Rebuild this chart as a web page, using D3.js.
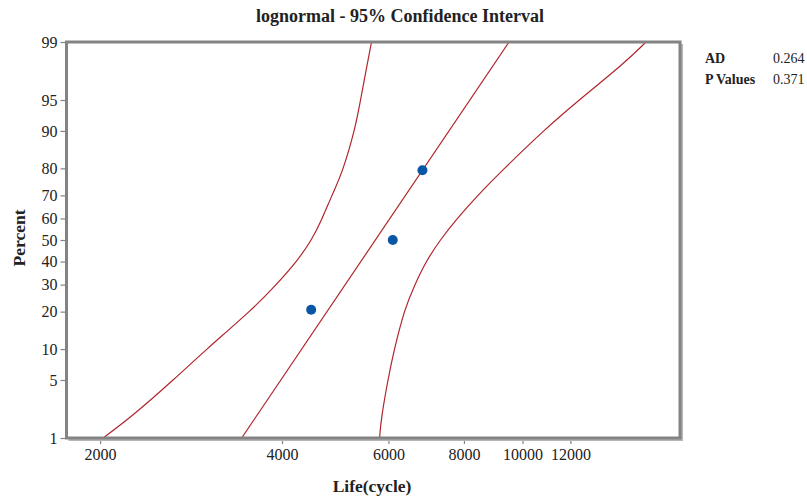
<!DOCTYPE html>
<html>
<head>
<meta charset="utf-8">
<script src="https://cdn.jsdelivr.net/npm/d3@7"></script>
<style>
  html, body { margin: 0; padding: 0; background: #fff; }
  svg text { font-family: "Liberation Serif", "Times New Roman", serif; fill: #222; }
</style>
</head>
<body>
<svg id="chart" width="807" height="497"></svg>
<script>
// Observed failure lives (cycles) and their median-rank plotting positions (%)
const lifeValues = [4470, 6100, 6830];
const rankPercent = [20.6, 50, 79.4];

// Fitted lognormal line, given by its 1% and 99% end points
const fitLife = [3430, 9500];
const fitPercent = [1, 99];

// Percent levels at which the confidence bounds are listed
const boundPercent = [1, 2, 5, 10, 20, 30, 40, 50, 60, 70, 80, 90, 95, 98, 99];

// Lower 95% confidence bound (cycles)
const lowerLife = [2023, 2268, 2641, 3006, 3528, 3910, 4220, 4468, 4659, 4840, 5047, 5263, 5395, 5531, 5626];

// Upper 95% confidence bound (cycles)
const upperLife = [5800, 5856, 5991, 6141, 6380, 6640, 6938, 7317, 7807, 8441, 9339, 10846, 12418, 14555, 16009];

// Axis ticks
const xTicks = [2000, 4000, 6000, 8000, 10000, 12000];
const yTicks = [1, 5, 10, 20, 30, 40, 50, 60, 70, 80, 90, 95, 99];

// Goodness-of-fit statistics
const statLabels = ["AD", "P Values"];
const statValues = ["0.264", "0.371"];

// Inverse standard normal CDF (Acklam), used for the probability axis
function probit(p) {
  const a = [-39.69683028665376, 220.9460984245205, -275.9285104469687, 138.3577518672690, -30.66479806614716, 2.506628277459239];
  const b = [-54.47609879822406, 161.5858368580409, -155.6989798598866, 66.80131188771972, -13.28068155288572];
  const c = [-0.007784894002430293, -0.3223964580411365, -2.400758277161838, -2.549732539343734, 4.374664141464968, 2.938163982698783];
  const d = [0.007784695709041462, 0.3224671290700398, 2.445134137142996, 3.754408661907416];
  const pl = 0.02425, ph = 1 - pl;
  let q, r;
  if (p < pl) {
    q = Math.sqrt(-2 * Math.log(p));
    return (((((c[0]*q+c[1])*q+c[2])*q+c[3])*q+c[4])*q+c[5]) / ((((d[0]*q+d[1])*q+d[2])*q+d[3])*q+1);
  } else if (p <= ph) {
    q = p - 0.5; r = q * q;
    return (((((a[0]*r+a[1])*r+a[2])*r+a[3])*r+a[4])*r+a[5])*q / (((((b[0]*r+b[1])*r+b[2])*r+b[3])*r+b[4])*r+1);
  } else {
    q = Math.sqrt(-2 * Math.log(1 - p));
    return -(((((c[0]*q+c[1])*q+c[2])*q+c[3])*q+c[4])*q+c[5]) / ((((d[0]*q+d[1])*q+d[2])*q+d[3])*q+1);
  }
}

const svg = d3.select("#chart");
const plotLeft = 66.5, plotRight = 680, plotTop = 42, plotBottom = 438;

const x = d3.scaleLog().domain([1760, 18220]).range([plotLeft, plotRight]);
const z = d3.scaleLinear().domain([probit(0.01), probit(0.99)]).range([plotBottom, plotTop]);
const y = p => z(probit(p / 100));

const lineColor = "#b0262d";
const frameColor = "#838383";

// Title
svg.append("text")
  .attr("x", 400).attr("y", 22)
  .attr("text-anchor", "middle")
  .style("font-size", "18px").style("font-weight", "bold")
  .text("lognormal - 95% Confidence Interval");

// Axes
const yAxis = d3.axisLeft(z)
  .tickValues(yTicks.map(p => probit(p / 100)))
  .tickFormat((d, i) => yTicks[i])
  .tickSize(5).tickPadding(3);
const gy = svg.append("g").attr("transform", `translate(${plotLeft - 1},0)`).call(yAxis);
gy.select(".domain").remove();
gy.selectAll(".tick line").attr("stroke", frameColor).attr("stroke-width", 1.2);
gy.selectAll(".tick text").style("font-size", "16px").attr("fill", "#222");

const xAxis = d3.axisBottom(x)
  .tickValues(xTicks)
  .tickFormat(d3.format("d"))
  .tickSize(5).tickPadding(5);
const gx = svg.append("g").attr("transform", `translate(0,${plotBottom + 1})`).call(xAxis);
gx.select(".domain").remove();
gx.selectAll(".tick line").attr("stroke", frameColor).attr("stroke-width", 1.2);
gx.selectAll(".tick text").style("font-size", "16px").attr("fill", "#222");

// Axis titles
svg.append("text")
  .attr("x", 372).attr("y", 492)
  .attr("text-anchor", "middle")
  .style("font-size", "17.5px").style("font-weight", "bold")
  .text("Life(cycle)");
svg.append("text")
  .attr("transform", "translate(25,238) rotate(-90)")
  .attr("text-anchor", "middle")
  .style("font-size", "17.5px").style("font-weight", "bold")
  .text("Percent");

// Clip region for the curves
svg.append("clipPath").attr("id", "plotClip")
  .append("rect").attr("x", plotLeft).attr("y", plotTop)
  .attr("width", plotRight - plotLeft).attr("height", plotBottom - plotTop);

const plot = svg.append("g").attr("clip-path", "url(#plotClip)");
const curve = d3.line().x(d => x(d[0])).y(d => y(d[1])).curve(d3.curveNatural);

plot.append("path")
  .datum(d3.zip(lowerLife, boundPercent))
  .attr("d", curve).attr("fill", "none").attr("stroke", lineColor).attr("stroke-width", 1.2);
plot.append("path")
  .datum(d3.zip(upperLife, boundPercent))
  .attr("d", curve).attr("fill", "none").attr("stroke", lineColor).attr("stroke-width", 1.2);
plot.append("path")
  .datum(d3.zip(fitLife, fitPercent))
  .attr("d", d3.line().x(d => x(d[0])).y(d => y(d[1])))
  .attr("fill", "none").attr("stroke", lineColor).attr("stroke-width", 1.2);

// Data points
plot.selectAll("circle.pt")
  .data(d3.zip(lifeValues, rankPercent))
  .join("circle").attr("class", "pt")
  .attr("cx", d => x(d[0])).attr("cy", d => y(d[1]))
  .attr("r", 5).attr("fill", "#0a56a6");

// Plot frame with a light shadow on the right and bottom
svg.append("path")
  .attr("d", `M${plotRight + 2},${plotTop + 2}V${plotBottom + 2}H${plotLeft + 2}`)
  .attr("fill", "none").attr("stroke", "#b5b5b5").attr("stroke-width", 2);
svg.append("rect")
  .attr("x", plotLeft).attr("y", plotTop)
  .attr("width", plotRight - plotLeft).attr("height", plotBottom - plotTop)
  .attr("fill", "none").attr("stroke", frameColor).attr("stroke-width", 3);

// Statistics box
const stats = svg.append("g").style("font-size", "14px");
statLabels.forEach((s, i) => {
  stats.append("text").attr("x", 705).attr("y", 63 + i * 21)
    .style("font-weight", "bold").text(s);
  stats.append("text").attr("x", 773).attr("y", 63 + i * 21).text(statValues[i]);
});
</script>
</body>
</html>
